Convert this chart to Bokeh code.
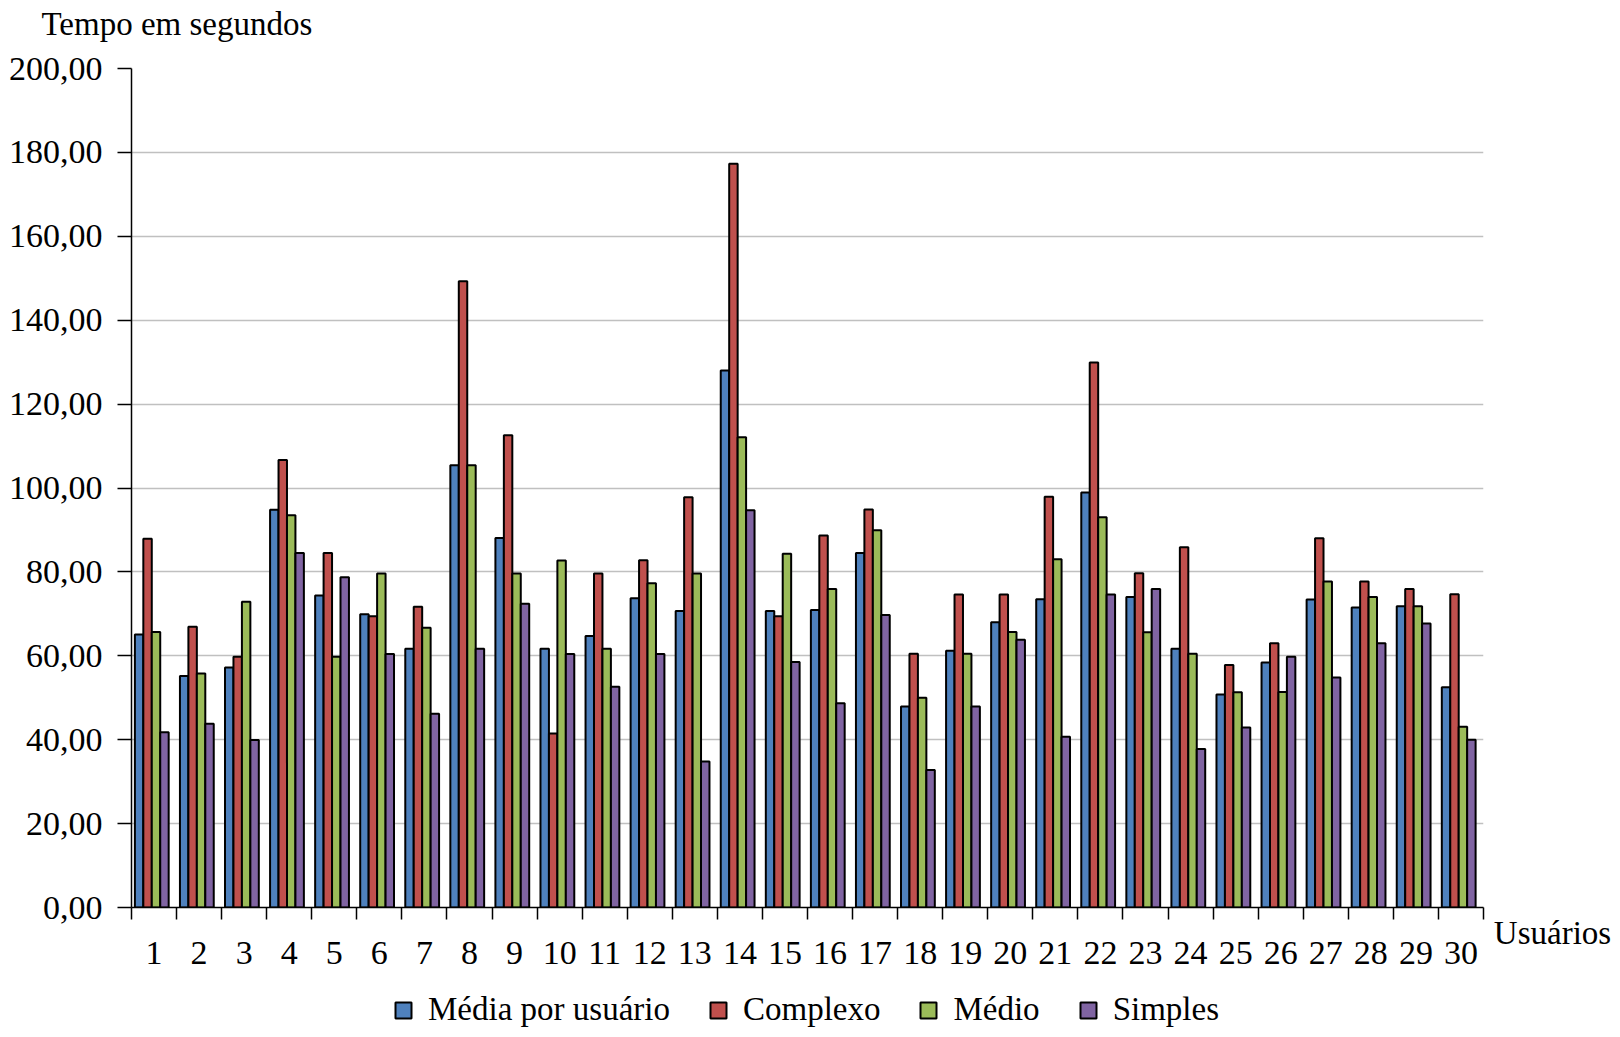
from bokeh.plotting import figure
from bokeh.models import FixedTicker, Legend, LegendItem, Range1d, ColumnDataSource, Label
from bokeh.layouts import column, row
from bokeh.transform import dodge
from bokeh.embed import file_html
from bokeh.resources import INLINE

# ---------------- data ----------------
users = [str(i) for i in range(1, 31)]
series_names = ["Média por usuário", "Complexo", "Médio", "Simples"]
media_por_usuario = [65.1, 55.2, 57.2, 94.8, 74.4, 69.9, 61.7, 105.4, 88.1, 61.7,
                     64.7, 73.7, 70.7, 128.0, 70.7, 70.9, 84.5, 47.9, 61.2, 68.0,
                     73.5, 98.9, 74.0, 61.7, 50.8, 58.4, 73.4, 71.5, 71.8, 52.5]
complexo = [87.9, 66.9, 59.8, 106.7, 84.5, 69.4, 71.7, 149.3, 112.6, 41.5,
            79.6, 82.8, 97.8, 177.3, 69.4, 88.7, 94.9, 60.5, 74.6, 74.6,
            97.9, 129.9, 79.7, 85.9, 57.8, 63.0, 88.0, 77.7, 75.9, 74.7]
medio = [65.7, 55.8, 72.9, 93.5, 59.8, 79.6, 66.7, 105.4, 79.6, 82.7,
         61.7, 77.3, 79.6, 112.1, 84.3, 75.9, 89.9, 50.0, 60.5, 65.7,
         83.0, 93.0, 65.6, 60.5, 51.3, 51.4, 77.7, 74.0, 71.8, 43.1]
simples = [41.8, 43.8, 39.9, 84.5, 78.7, 60.4, 46.2, 61.7, 72.4, 60.4,
           52.6, 60.4, 34.8, 94.7, 58.5, 48.7, 69.7, 32.8, 47.9, 63.8,
           40.7, 74.6, 75.9, 37.8, 42.9, 59.8, 54.8, 63.0, 67.7, 40.0]
y_tick_values = [0, 20, 40, 60, 80, 100, 120, 140, 160, 180, 200]
y_tick_labels = ["0,00", "20,00", "40,00", "60,00", "80,00", "100,00",
                 "120,00", "140,00", "160,00", "180,00", "200,00"]
y_axis_title = "Tempo em segundos"
x_axis_title = "Usuários"

# ---------------- styling ----------------
FONT = "Liberation Serif"
FS_TICK = "34px"
FS = "33px"
colors = ["#4F81BD", "#C0504D", "#9BBB59", "#8064A2"]
OUTLINE_W = 2

TOTAL_W = 1612
TOP_H = 46          # strip holding the y-axis title
MAIN_W, MAIN_H = 1486, 929
SIDE_W = TOTAL_W - MAIN_W
LEG_H = 60


def blank(width, height, x_axis=None):
    f = figure(width=width, height=height, output_backend="svg", toolbar_location=None,
               x_range=Range1d(0, width), y_range=Range1d(0, height),
               x_axis_type=x_axis, y_axis_type=None, min_border=0)
    f.outline_line_color = None
    f.background_fill_color = "white"
    f.border_fill_color = "white"
    return f


# ---------------- main chart ----------------
x_pos = list(range(1, len(users) + 1))
src = ColumnDataSource(dict(x=x_pos, s0=media_por_usuario, s1=complexo,
                            s2=medio, s3=simples))
keys = ["s0", "s1", "s2", "s3"]

p = figure(width=MAIN_W, height=MAIN_H, output_backend="svg", toolbar_location=None,
           x_range=Range1d(0.5, len(users) + 0.5), y_range=Range1d(0, 200),
           min_border_left=131, min_border_right=3, min_border_top=22,
           min_border_bottom=68)
p.outline_line_color = None
p.background_fill_color = "white"
p.border_fill_color = "white"

bw = 0.1875
shift = -0.05
for i, key in enumerate(keys):
    off = shift + (i - 1.5) * bw
    p.vbar(x=dodge("x", off, range=p.x_range), top=key, width=bw, source=src,
           fill_color=colors[i], line_color="black", line_width=OUTLINE_W)

p.xgrid.grid_line_color = None
p.ygrid.grid_line_color = "#C0C0C0"
p.ygrid.grid_line_width = 1.5
p.ygrid.ticker = FixedTicker(ticks=y_tick_values)

ya = p.yaxis[0]
ya.ticker = FixedTicker(ticks=y_tick_values)
ya.major_label_overrides = {v: l for v, l in zip(y_tick_values, y_tick_labels)}
ya.axis_line_color = "black"
ya.axis_line_width = 1.5
ya.major_tick_line_color = "black"
ya.major_tick_line_width = 1.5
ya.major_tick_out = 14
ya.major_tick_in = 0
ya.minor_tick_line_color = None
ya.major_label_standoff = 15
ya.major_label_text_font = FONT
ya.major_label_text_font_size = FS_TICK
ya.major_label_text_color = "black"

xa = p.xaxis[0]
xa.ticker = FixedTicker(ticks=x_pos, minor_ticks=[x - 0.5 for x in x_pos] + [len(users) + 0.5])
xa.major_label_overrides = {x: u for x, u in zip(x_pos, users)}
xa.axis_line_color = "black"
xa.axis_line_width = 1.5
xa.major_tick_line_color = None
xa.major_tick_out = 0
xa.major_tick_in = 0
xa.minor_tick_line_color = "black"
xa.minor_tick_line_width = 1.5
xa.minor_tick_out = 12
xa.minor_tick_in = 0
xa.major_label_standoff = 22
xa.major_label_text_font = FONT
xa.major_label_text_font_size = FS_TICK
xa.major_label_text_color = "black"

# ---------------- y-axis title strip ----------------
top = blank(TOTAL_W, TOP_H)
top.add_layout(Label(x=41, y=TOP_H - 23, text=y_axis_title, text_font=FONT,
                     text_font_size=FS, text_color="black",
                     text_baseline="middle", text_align="left"))

# ---------------- x-axis title to the right of the axis end ----------------
side = blank(SIDE_W, MAIN_H, x_axis="linear")
side.xgrid.grid_line_color = None
sa = side.xaxis[0]
title_pos = 66
sa.ticker = FixedTicker(ticks=[title_pos])
sa.major_label_overrides = {title_pos: x_axis_title}
sa.axis_line_color = None
sa.major_tick_line_color = None
sa.minor_tick_line_color = None
sa.major_tick_out = 0
sa.major_tick_in = 0
sa.major_label_standoff = 7
sa.major_label_text_font = FONT
sa.major_label_text_font_size = FS
sa.major_label_text_color = "black"

# ---------------- legend strip ----------------
leg = blank(TOTAL_W, LEG_H)
proxies = [leg.vbar(x="x", top=k, width=1, source=src, fill_color=c, line_color="black",
                    line_width=OUTLINE_W, visible=False) for k, c in zip(keys, colors)]
legend = Legend(items=[LegendItem(label=n, renderers=[r]) for n, r in zip(series_names, proxies)],
                orientation="horizontal", location=(393, 7),
                label_text_font=FONT, label_text_font_size=FS, label_text_color="black",
                glyph_width=20, glyph_height=20, label_standoff=15, spacing=38,
                padding=0, margin=0, border_line_color=None, background_fill_alpha=0,
                inactive_fill_alpha=0)
leg.add_layout(legend, "center")

layout = column(top, row(p, side), leg)
open("out.html", "w").write(file_html(layout, INLINE))
